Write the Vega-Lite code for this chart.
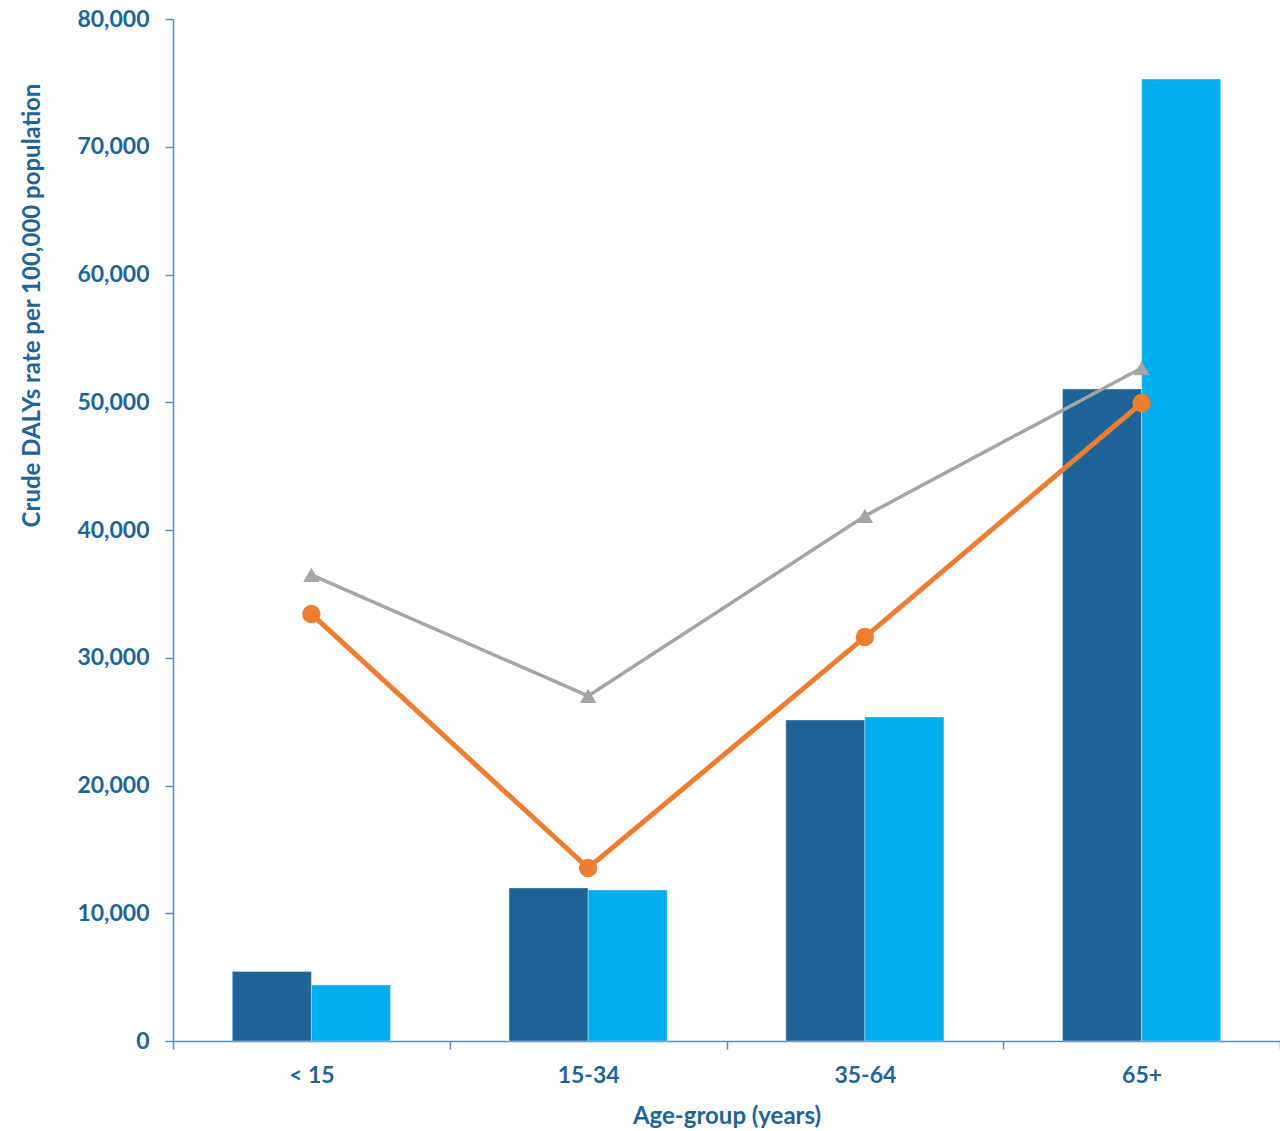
{
  "$schema": "https://vega.github.io/schema/vega-lite/v6.json",
  "width": 1107,
  "height": 1022,
  "autosize": {"type": "none"},
  "padding": {"left": 173, "top": 19, "right": 0, "bottom": 90},
  "background": "white",
  "config": {
    "view": {"stroke": null},
    "font": "Lato",
    "axis": {
      "domainColor": "#5A8BBF",
      "domainWidth": 1.5,
      "tickColor": "#5A8BBF",
      "tickWidth": 1.5,
      "tickSize": 8,
      "grid": false,
      "labelFont": "Lato",
      "labelFontWeight": "bold",
      "labelFontSize": 23,
      "labelColor": "#1F6496",
      "titleFont": "Lato",
      "titleFontWeight": "bold",
      "titleFontSize": 24,
      "titleColor": "#1F6496"
    }
  },
  "datasets": {
    "bars": [
      {"age": "< 15", "series": "Series 1", "value": 5450},
      {"age": "< 15", "series": "Series 2", "value": 4380},
      {"age": "15-34", "series": "Series 1", "value": 11980},
      {"age": "15-34", "series": "Series 2", "value": 11820},
      {"age": "35-64", "series": "Series 1", "value": 25130},
      {"age": "35-64", "series": "Series 2", "value": 25360},
      {"age": "65+", "series": "Series 1", "value": 51040},
      {"age": "65+", "series": "Series 2", "value": 75300}
    ],
    "lines": [
      {"age": "< 15", "series": "Series 3", "value": 36480},
      {"age": "15-34", "series": "Series 3", "value": 27010},
      {"age": "35-64", "series": "Series 3", "value": 41100},
      {"age": "65+", "series": "Series 3", "value": 52680},
      {"age": "< 15", "series": "Series 4", "value": 33430},
      {"age": "15-34", "series": "Series 4", "value": 13540},
      {"age": "35-64", "series": "Series 4", "value": 31620},
      {"age": "65+", "series": "Series 4", "value": 49940}
    ]
  },
  "encoding": {
    "x": {
      "field": "age",
      "type": "nominal",
      "sort": ["< 15", "15-34", "35-64", "65+"],
      "scale": {"paddingInner": 0, "paddingOuter": 0},
      "axis": {
        "labelAngle": 0,
        "tickBand": "extent",
        "labelPadding": 15,
        "title": "Age-group (years)",
        "titlePadding": 17
      }
    },
    "y": {
      "field": "value",
      "type": "quantitative",
      "scale": {"domain": [0, 80000], "nice": false},
      "axis": {
        "values": [0, 10000, 20000, 30000, 40000, 50000, 60000, 70000, 80000],
        "format": ",.0f",
        "labelPadding": 16,
        "title": "Crude DALYs rate per 100,000 population",
        "titleAngle": -90,
        "titleX": -141,
        "titleY": 286,
        "titleAlign": "center",
        "titleBaseline": "middle"
      }
    }
  },
  "layer": [
    {
      "data": {"name": "bars"},
      "mark": {"type": "bar", "stroke": "#FFFFFF", "strokeWidth": 0.6, "strokeOpacity": 0.6},
      "encoding": {
        "xOffset": {"field": "series", "sort": ["Series 1", "Series 2"], "scale": {"paddingInner": 0, "paddingOuter": 0.75}},
        "color": {
          "field": "series",
          "scale": {"domain": ["Series 1", "Series 2", "Series 3", "Series 4"], "range": ["#1F6496", "#00ADEE", "#A5A5A5", "#ED7D31"]},
          "legend": null
        }
      }
    },
    {
      "data": {"name": "lines"},
      "transform": [{"filter": "datum.series == 'Series 3'"}],
      "mark": {"type": "line", "strokeWidth": 3.5, "color": "#A5A5A5"},
      "encoding": {}
    },
    {
      "data": {"name": "lines"},
      "transform": [{"filter": "datum.series == 'Series 3'"}],
      "mark": {"type": "point", "shape": "triangle-up", "filled": true, "size": 270, "opacity": 1, "color": "#A5A5A5"},
      "encoding": {}
    },
    {
      "data": {"name": "lines"},
      "transform": [{"filter": "datum.series == 'Series 4'"}],
      "mark": {"type": "line", "strokeWidth": 5, "color": "#ED7D31"},
      "encoding": {}
    },
    {
      "data": {"name": "lines"},
      "transform": [{"filter": "datum.series == 'Series 4'"}],
      "mark": {"type": "circle", "size": 340, "opacity": 1, "color": "#ED7D31"},
      "encoding": {}
    }
  ]
}
